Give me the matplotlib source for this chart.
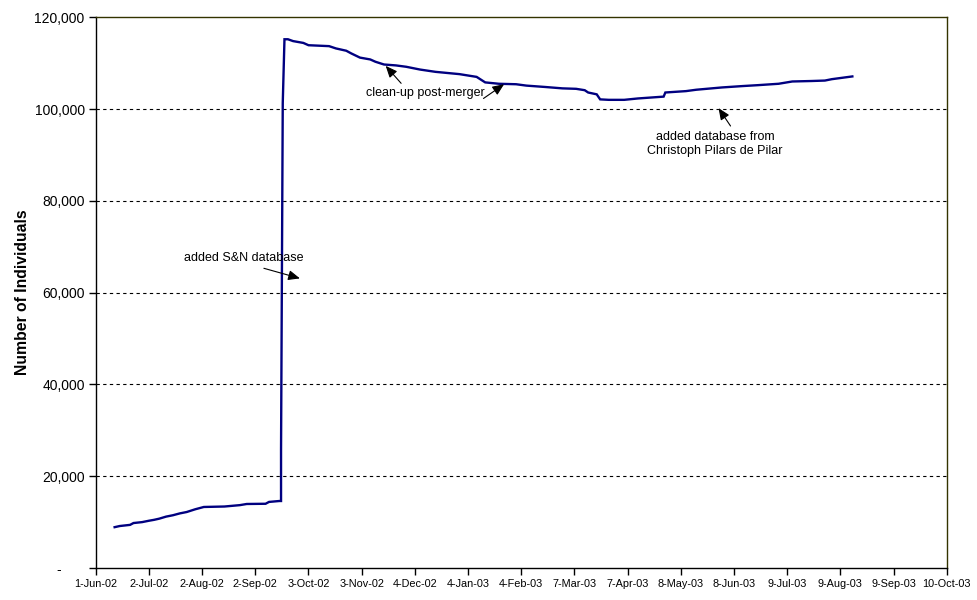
import datetime as dt
import matplotlib
matplotlib.use("Agg")
import matplotlib.pyplot as plt

plt.rcParams['font.family'] = ['Liberation Sans', 'DejaVu Sans']

# ---- data ----
dates = [
    "2002-06-12", "2002-06-15", "2002-06-21", "2002-06-23", "2002-06-28",
    "2002-07-02", "2002-07-05", "2002-07-08", "2002-07-12", "2002-07-16",
    "2002-07-20", "2002-07-24", "2002-07-29", "2002-08-03", "2002-08-15",
    "2002-08-24", "2002-08-28", "2002-09-08", "2002-09-10", "2002-09-16",
    "2002-09-17", "2002-09-17", "2002-09-18", "2002-09-19", "2002-09-21",
    "2002-09-24",
    "2002-09-30", "2002-10-03", "2002-10-15", "2002-10-19", "2002-10-25",
    "2002-10-28", "2002-11-02", "2002-11-08", "2002-11-11", "2002-11-16",
    "2002-11-23", "2002-11-29", "2002-12-07", "2002-12-16", "2002-12-30",
    "2003-01-09", "2003-01-14", "2003-01-22", "2003-02-01", "2003-02-07",
    "2003-02-18", "2003-02-28", "2003-03-08", "2003-03-13", "2003-03-15",
    "2003-03-20", "2003-03-22", "2003-03-27", "2003-04-05", "2003-04-13",
    "2003-04-28", "2003-04-29", "2003-05-11", "2003-05-17", "2003-06-01",
    "2003-06-13", "2003-06-22", "2003-07-04", "2003-07-12", "2003-07-23",
    "2003-07-31", "2003-08-04", "2003-08-12", "2003-08-16",
]
individuals = [
    8900, 9150, 9400, 9800, 10000,
    10300, 10500, 10750, 11200, 11500,
    11900, 12200, 12800, 13300, 13400,
    13700, 13950, 14000, 14400, 14600,
    14600, 25700, 101300, 115200, 115200,
    114800,
    114400, 113900, 113700, 113200, 112700,
    112100, 111200, 110800, 110300, 109700,
    109500, 109200, 108600, 108100, 107600,
    107000, 105800, 105500, 105400, 105100,
    104800, 104500, 104400, 104100, 103600,
    103200, 102100, 102000, 102000, 102300,
    102700, 103600, 103900, 104200, 104700,
    105000, 105200, 105500, 106000, 106100,
    106200, 106500, 106900, 107100,
]
tick_dates = [
    "2002-06-01", "2002-07-02", "2002-08-02", "2002-09-02", "2002-10-03",
    "2002-11-03", "2002-12-04", "2003-01-04", "2003-02-04", "2003-03-07",
    "2003-04-07", "2003-05-08", "2003-06-08", "2003-07-09", "2003-08-09",
    "2003-09-09", "2003-10-10",
]
tick_labels = [
    "1-Jun-02", "2-Jul-02", "2-Aug-02", "2-Sep-02", "3-Oct-02", "3-Nov-02",
    "4-Dec-02", "4-Jan-03", "4-Feb-03", "7-Mar-03", "7-Apr-03", "8-May-03",
    "8-Jun-03", "9-Jul-03", "9-Aug-03", "9-Sep-03", "10-Oct-03",
]
y_ticks = [0, 20000, 40000, 60000, 80000, 100000, 120000]
y_labels = ["-      ", "20,000", "40,000", "60,000", "80,000", "100,000", "120,000"]

def d(s):
    return dt.datetime.strptime(s, "%Y-%m-%d")

x = [d(s) for s in dates]
xt = [d(s) for s in tick_dates]

fig = plt.figure(figsize=(9.77, 6.0), dpi=100)
ax = fig.add_axes([0.098, 0.0533, 0.871, 0.918])

ax.plot(x, individuals, color='#000080', lw=1.7, solid_joinstyle='miter')

ax.set_xlim(xt[0], xt[-1])
ax.set_ylim(0, 120000)
ax.set_xticks(xt)
ax.set_xticklabels(tick_labels, fontsize=7.8)
ax.set_yticks(y_ticks)
ax.set_yticklabels(y_labels, fontsize=10)
ax.tick_params(axis='both', direction='out', length=5, width=1, color='black')
ax.tick_params(axis='x', pad=3)
ax.tick_params(axis='y', pad=3)

for yv in y_ticks[1:-1]:
    ax.axhline(yv, color='black', lw=0.8, ls=(0, (3, 3)), zorder=0)

ax.spines['left'].set_color('black')
ax.spines['bottom'].set_color('black')
ax.spines['top'].set_color('#333300')
ax.spines['right'].set_color('#333300')
for s in ax.spines.values():
    s.set_linewidth(1.0)

ax.set_ylabel("Number of Individuals", fontsize=11.3, fontweight='bold', labelpad=3)

arrow = dict(arrowstyle='-|>,head_length=0.7,head_width=0.3', color='black', lw=0.8,
             shrinkA=0, shrinkB=0)

# S&N
ax.text(d("2002-08-26"), 67600, "added S&N database", fontsize=9, ha='center', va='center')
ax.annotate("", xy=(d("2002-09-28"), 63100), xytext=(d("2002-09-07"), 65300), arrowprops=arrow)

# clean-up
ax.text(d("2002-12-10"), 103500, "clean-up post-merger", fontsize=9, ha='center', va='center')
ax.annotate("", xy=(d("2002-11-17"), 109400), xytext=(d("2002-11-26"), 105600), arrowprops=arrow)
ax.annotate("", xy=(d("2003-01-25"), 105400), xytext=(d("2003-01-13"), 102300), arrowprops=arrow)

# Pilar
ax.text(d("2003-05-28"), 92450, "added database from\nChristoph Pilars de Pilar", fontsize=9,
        ha='center', va='center', linespacing=1.25)
ax.annotate("", xy=(d("2003-05-30"), 100200), xytext=(d("2003-06-06"), 96300), arrowprops=arrow)

fig.savefig("out.png", dpi=100)
